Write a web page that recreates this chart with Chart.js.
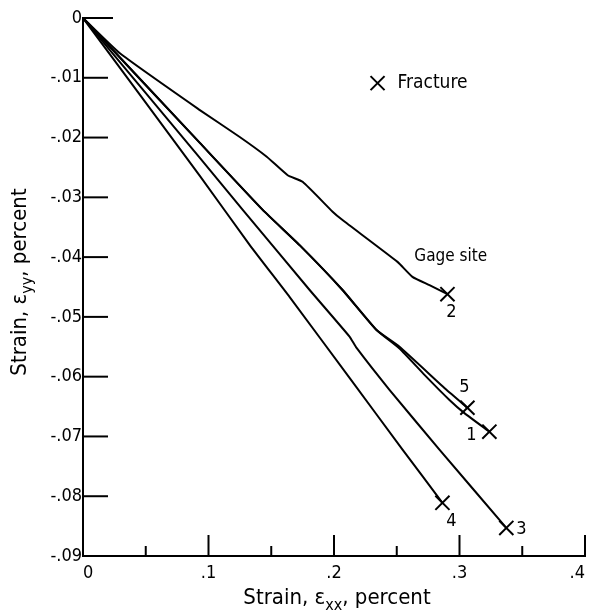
<!DOCTYPE html>
<html>
<head>
<meta charset="utf-8">
<script src="https://cdn.jsdelivr.net/npm/chart.js@4.4.1/dist/chart.umd.min.js"></script>
<style>
html,body{margin:0;padding:0;background:#fff;}
#wrap{width:590px;height:611px;position:relative;}
</style>
</head>
<body>
<div id="wrap"><canvas id="c"></canvas></div>
<script>
// ---- data (strain, percent) ----
const gageNames = ['1', '2', '3', '4', '5'];

const gage1X = [0, 0.0931, 0.1432, 0.1726, 0.2068, 0.2339, 0.2522, 0.2721, 0.2920, 0.3039, 0.3238];
const gage1Y = [0, -0.0209, -0.0321, -0.0380, -0.0455, -0.0522, -0.0553, -0.0597, -0.0639, -0.0661, -0.0692];

const gage2X = [0, 0.0294, 0.0931, 0.1249, 0.1464, 0.1631, 0.1750, 0.1989, 0.2068, 0.2506, 0.2625, 0.2761, 0.2904];
const gage2Y = [0, -0.0059, -0.0154, -0.0199, -0.0232, -0.0263, -0.0274, -0.0324, -0.0338, -0.0408, -0.0433, -0.0447, -0.0462];

const gage3X = [0, 0.0931, 0.1273, 0.1806, 0.2124, 0.2180, 0.2442, 0.2840, 0.3373];
const gage3Y = [0, -0.0234, -0.0321, -0.0455, -0.0533, -0.0552, -0.0622, -0.0722, -0.0853];

const gage4X = [0, 0.0931, 0.1329, 0.1647, 0.2124, 0.2546, 0.2864];
const gage4Y = [0, -0.0264, -0.0380, -0.0467, -0.0602, -0.0722, -0.0811];

const gage5X = [0, 0.0931, 0.1432, 0.1726, 0.2068, 0.2339, 0.2522, 0.2896, 0.3063];
const gage5Y = [0, -0.0209, -0.0321, -0.0380, -0.0455, -0.0522, -0.0550, -0.0622, -0.0652];

// ---- axis text ----
const xTickLabels = ['0', '.1', '.2', '.3', '.4'];
const yTickLabels = ['0', '-.01', '-.02', '-.03', '-.04', '-.05', '-.06', '-.07', '-.08', '-.09'];
const xMinorTicks = [0.05, 0.15, 0.25, 0.35];
const xTitleParts = ['Strain, \u03b5', 'xx', ', percent'];
const yTitleParts = ['Strain, \u03b5', 'yy', ', percent'];
const legendLabel = 'Fracture';
const noteLabel = 'Gage site';

const FONT = '"DejaVu Sans Condensed", "Liberation Sans Narrow", "DejaVu Sans", sans-serif';

function toPoints(xs, ys) { return xs.map((x, i) => ({ x: x, y: ys[i] })); }
const seriesX = [gage1X, gage2X, gage3X, gage4X, gage5X];
const seriesY = [gage1Y, gage2Y, gage3Y, gage4Y, gage5Y];

const datasets = gageNames.map((name, i) => ({
  label: 'Gage ' + name,
  data: toPoints(seriesX[i], seriesY[i]),
  showLine: true,
  borderColor: '#000',
  borderWidth: 2,
  tension: 0.15,
  fill: false,
  pointStyle: 'crossRot',
  pointBorderColor: '#000',
  pointBackgroundColor: '#000',
  pointBorderWidth: 2,
  pointRadius: (c) => c.dataIndex === c.dataset.data.length - 1 ? 10 : 0,
  pointHoverRadius: (c) => c.dataIndex === c.dataset.data.length - 1 ? 10 : 0
}));

// label offsets (px) from each fracture mark
const labelOffsets = { '1': [-18, 4], '2': [4, 18], '3': [15, 1], '4': [9, 19], '5': [-3, -20] };

function drawSubText(ctx, parts, cx, cy, size) {
  const mainFont = size + 'px ' + FONT;
  const subFont = Math.round(size * 0.72) + 'px ' + FONT;
  ctx.font = mainFont; const w0 = ctx.measureText(parts[0]).width; const w2 = ctx.measureText(parts[2]).width;
  ctx.font = subFont; const w1 = ctx.measureText(parts[1]).width;
  let x = cx - (w0 + w1 + w2) / 2;
  const base = cy + size * 0.36;
  ctx.textAlign = 'left'; ctx.textBaseline = 'alphabetic';
  ctx.font = mainFont; ctx.fillText(parts[0], x, base); x += w0;
  ctx.font = subFont; ctx.fillText(parts[1], x, base + size * 0.26); x += w1;
  ctx.font = mainFont; ctx.fillText(parts[2], x, base);
}

const decorPlugin = {
  id: 'decor',
  afterDraw(chart) {
    const ctx = chart.ctx;
    const xs = chart.scales.x, ys = chart.scales.y;
    const area = chart.chartArea;
    ctx.save();
    ctx.strokeStyle = '#000'; ctx.fillStyle = '#000'; ctx.lineWidth = 2;
    // inner tick marks on x axis
    const yb = ys.getPixelForValue(ys.min);
    xs.ticks.forEach(t => {
      if (t.value === xs.min) return;
      const px = xs.getPixelForValue(t.value);
      ctx.beginPath(); ctx.moveTo(px, yb); ctx.lineTo(px, yb - 21); ctx.stroke();
    });
    xMinorTicks.forEach(v => {
      const px = xs.getPixelForValue(v);
      ctx.beginPath(); ctx.moveTo(px, yb); ctx.lineTo(px, yb - 10); ctx.stroke();
    });
    // inner tick marks on y axis
    const xl = xs.getPixelForValue(xs.min);
    ys.ticks.forEach(t => {
      if (t.value === ys.min) return;
      const py = ys.getPixelForValue(t.value);
      const len = Math.abs(t.value) < 1e-9 ? 30 : 25;
      ctx.beginPath(); ctx.moveTo(xl, py); ctx.lineTo(xl + len, py); ctx.stroke();
    });
    // gage number labels
    ctx.font = '18px ' + FONT; ctx.textAlign = 'center'; ctx.textBaseline = 'middle';
    chart.data.datasets.forEach((ds, i) => {
      const meta = chart.getDatasetMeta(i);
      const el = meta.data[meta.data.length - 1];
      const off = labelOffsets[gageNames[i]];
      ctx.fillText(gageNames[i], el.x + off[0], el.y + off[1]);
    });
    // "Gage site" note
    ctx.font = '17px ' + FONT;
    ctx.fillText(noteLabel, xs.getPixelForValue(0.293), ys.getPixelForValue(-0.0399));
    // legend: X  Fracture
    const lx = xs.getPixelForValue(0.2347), ly = ys.getPixelForValue(-0.0109);
    const h = 7;
    ctx.beginPath(); ctx.moveTo(lx - h, ly - h); ctx.lineTo(lx + h, ly + h);
    ctx.moveTo(lx - h, ly + h); ctx.lineTo(lx + h, ly - h); ctx.stroke();
    ctx.textAlign = 'left';
    ctx.font = '19px ' + FONT;
    ctx.fillText(legendLabel, lx + 20, ly);
    // axis titles with subscripts
    drawSubText(ctx, xTitleParts, (area.left + area.right) / 2 + 3, 596, 22);
    ctx.save();
    ctx.translate(18, (area.top + area.bottom) / 2 - 5);
    ctx.rotate(-Math.PI / 2);
    drawSubText(ctx, yTitleParts, 0, 0, 22);
    ctx.restore();
    ctx.restore();
  }
};

new Chart(document.getElementById('c'), {
  type: 'scatter',
  data: { datasets: datasets },
  options: {
    responsive: true,
    maintainAspectRatio: false,
    animation: false,
    events: [],
    layout: { autoPadding: false, padding: { left: 0, top: 18, right: 5, bottom: 0 } },
    plugins: { legend: { display: false }, tooltip: { enabled: false } },
    scales: {
      x: {
        type: 'linear', min: 0, max: 0.4,
        grid: { display: false, drawTicks: false },
        border: { display: true, color: '#000', width: 2 },
        ticks: {
          stepSize: 0.1, color: '#000', padding: 7, maxRotation: 0, autoSkip: false,
          align: 'inner',
          font: { family: FONT, size: 18 },
          callback: (v) => xTickLabels[Math.round(v * 10)]
        },
        afterFit: (s) => { s.height = 55; s.paddingLeft = 0; s.paddingRight = 0; }
      },
      y: {
        type: 'linear', min: -0.09, max: 0,
        grid: { display: false, drawTicks: false },
        border: { display: true, color: '#000', width: 2 },
        ticks: {
          stepSize: 0.01, color: '#000', padding: 1, autoSkip: false,
          font: { family: FONT, size: 18 },
          callback: (v) => yTickLabels[Math.round(-v * 100)]
        },
        afterFit: (s) => { s.width = 83; s.paddingTop = 0; s.paddingBottom = 0; }
      }
    }
  },
  plugins: [decorPlugin]
});
</script>
</body>
</html>
